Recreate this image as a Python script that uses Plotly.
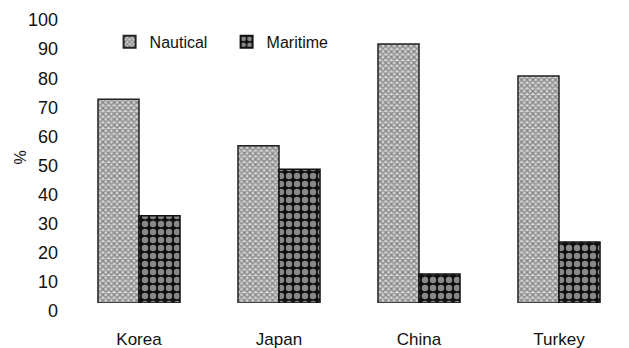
import plotly.graph_objects as go

countries = ["Korea", "Japan", "China", "Turkey"]
nautical = [70, 54, 89, 78]
maritime = [30, 46, 10, 21]
y_ticks = list(range(0, 101, 10))

FONT = "Liberation Sans, Arial, sans-serif"

fig = go.Figure()
fig.add_trace(go.Bar(
    x=countries, y=nautical, name="Nautical",
    marker=dict(
        color="white",
        line=dict(color="#222222", width=1.5),
        pattern=dict(shape="x", fgcolor="#333333", bgcolor="#d4d4d4",
                     size=4, solidity=0.55),
    ),
))
fig.add_trace(go.Bar(
    x=countries, y=maritime, name="Maritime",
    marker=dict(
        color="white",
        line=dict(color="#111111", width=1.5),
        pattern=dict(shape=".", fgcolor="#ffffff", bgcolor="#101010",
                     size=8, solidity=0.5),
    ),
))

fig.update_layout(
    width=629, height=348,
    margin=dict(l=69, r=0, t=12, b=45),
    paper_bgcolor="white", plot_bgcolor="white",
    barmode="group", bargap=0.414, bargroupgap=0,
    font=dict(family=FONT, size=18, color="#111111"),
    showlegend=True,
    legend=dict(
        orientation="h", x=0.0725, y=0.897, xanchor="left", yanchor="middle",
        font=dict(family=FONT, size=16, color="#111111"),
        bgcolor="rgba(0,0,0,0)", entrywidth=72, entrywidthmode="pixels",
        itemsizing="constant",
    ),
    xaxis=dict(
        showline=False, showgrid=False, zeroline=False, ticks="",
        ticklabelstandoff=24,
        tickfont=dict(family=FONT, size=17, color="#111111"),
    ),
    yaxis=dict(
        range=[0, 100], tickvals=y_ticks, ticktext=[str(v) for v in y_ticks],
        showline=False, showgrid=False, zeroline=False, ticks="",
        ticklabelshift=8, ticklabelstandoff=10,
        tickfont=dict(family=FONT, size=18, color="#111111"),
    ),
    annotations=[dict(
        text="%", textangle=-90, showarrow=False,
        xref="paper", yref="paper", x=-49 / 560, y=0.5,
        xanchor="center", yanchor="middle",
        font=dict(family=FONT, size=16, color="#111111"),
    )],
)

fig.write_html("out.html")
